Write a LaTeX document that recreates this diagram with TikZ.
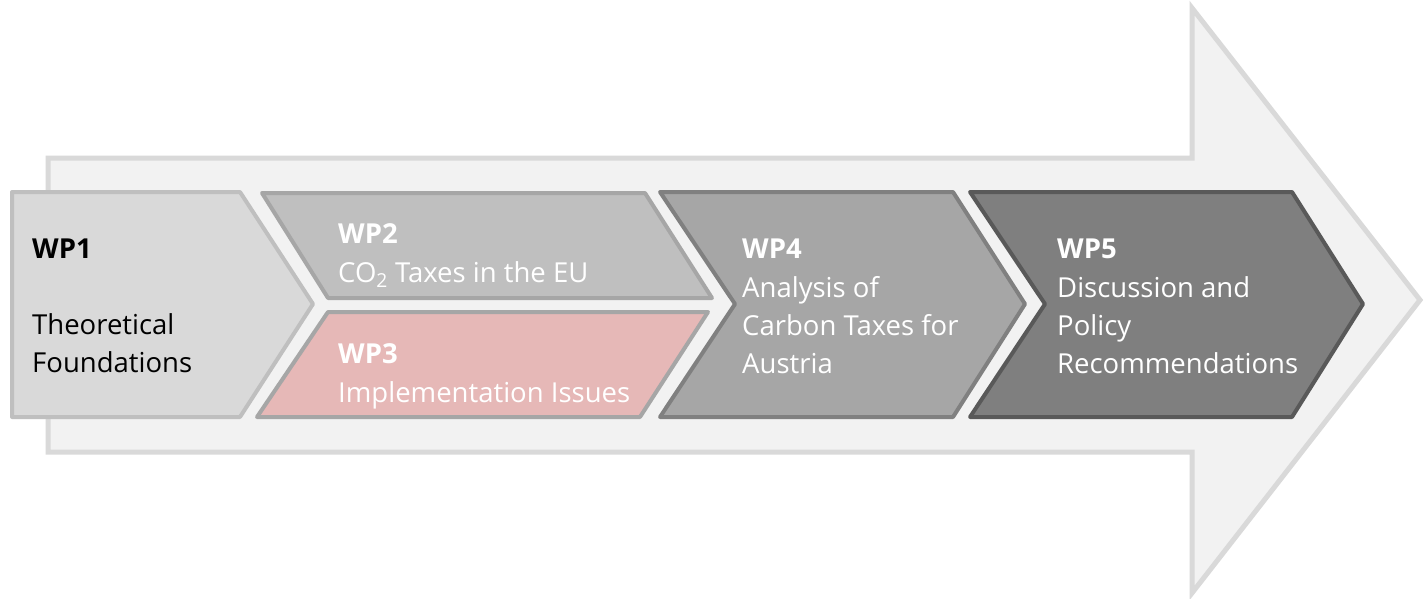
\documentclass[tikz,border=0pt]{standalone}
\usepackage{fontspec}
\setmainfont{Open Sans}
\definecolor{arrowfill}{HTML}{F2F2F2}
\definecolor{arrowline}{HTML}{D9D9D9}
\definecolor{wpAfill}{HTML}{D9D9D9}
\definecolor{wpAline}{HTML}{BFBFBF}
\definecolor{wpBfill}{HTML}{BFBFBF}
\definecolor{wpBline}{HTML}{A6A6A6}
\definecolor{wpCfill}{HTML}{E6B8B7}
\definecolor{wpCline}{HTML}{A6A6A6}
\definecolor{wpDfill}{HTML}{A6A6A6}
\definecolor{wpDline}{HTML}{808080}
\definecolor{wpEfill}{HTML}{7F7F7F}
\definecolor{wpEline}{HTML}{595959}
\begin{document}
\begin{tikzpicture}[x=1pt,y=-1pt,
  wpshape/.style={line width=4pt,line join=round},
  wptext/.style={anchor=base west,inner sep=0pt,font=\fontsize{27.5}{34}\selectfont},
  wphead/.style={wptext,font=\fontsize{27.5}{34}\selectfont\bfseries},
]
\useasboundingbox[fill=white] (0,0) rectangle (1426,599);
% big background arrow
\draw[fill=arrowfill,draw=arrowline,line width=5pt,line join=miter]
  (48,158) -- (1192,158) -- (1192,8) -- (1420,300) -- (1192,593) -- (1192,452) -- (48,452) -- cycle;
% WP1
\draw[wpshape,fill=wpAfill,draw=wpAline]
  (12,192) -- (240,192) -- (313,304) -- (240,417) -- (12,417) -- cycle;
% WP2
\draw[wpshape,fill=wpBfill,draw=wpBline]
  (262,193) -- (645,193) -- (712,298) -- (328,298) -- cycle;
% WP3
\draw[wpshape,fill=wpCfill,draw=wpCline]
  (328,312) -- (708,312) -- (640,417) -- (257,417) -- cycle;
% WP4
\draw[wpshape,fill=wpDfill,draw=wpDline]
  (660,192) -- (953,192) -- (1025,304) -- (953,417) -- (660,417) -- (735,304) -- cycle;
% WP5
\draw[wpshape,fill=wpEfill,draw=wpEline]
  (970,192) -- (1292,192) -- (1363,304) -- (1292,417) -- (970,417) -- (1045,304) -- cycle;
% texts
\node[wphead,text=black] (t1a) at (32,258) {WP1};
\node[wptext,text=black] (t1b) at (32,334) {Theoretical};
\node[wptext,text=black] (t1c) at (32,372) {Foundations};
\node[wphead,text=white] (t2a) at (338,243) {WP2};
\node[wptext,text=white] (t2b) at (338,282) {CO\textsubscript{2} Taxes in the EU};
\node[wphead,text=white] (t3a) at (338,363) {WP3};
\node[wptext,text=white] (t3b) at (338,402) {Implementation Issues};
\node[wphead,text=white] (t4a) at (742,258) {WP4};
\node[wptext,text=white] (t4b) at (742,297) {Analysis of};
\node[wptext,text=white] (t4c) at (742,335) {Carbon Taxes for};
\node[wptext,text=white] (t4d) at (742,373) {Austria};
\node[wphead,text=white] (t5a) at (1057,258) {WP5};
\node[wptext,text=white] (t5b) at (1057,297) {Discussion and};
\node[wptext,text=white] (t5c) at (1057,335) {Policy};
\node[wptext,text=white] (t5d) at (1057,373) {Recommendations};
\end{tikzpicture}
\end{document}
